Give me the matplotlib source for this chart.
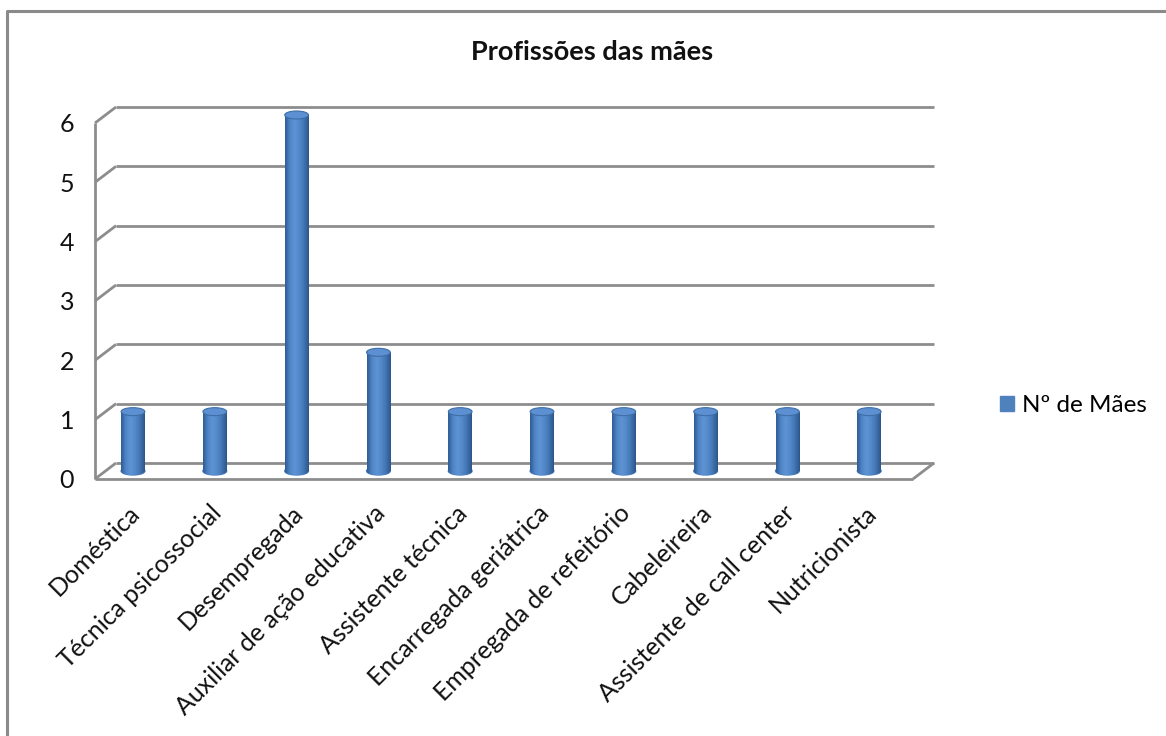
#!/usr/bin/env python3
"""Profissões das mães - 3D-style cylinder bar chart, redrawn in matplotlib."""

import numpy as np
import matplotlib
matplotlib.use("Agg")
import matplotlib.pyplot as plt
from matplotlib.colors import LinearSegmentedColormap
from matplotlib.lines import Line2D
from matplotlib.patches import Ellipse, Patch

plt.rcParams["font.family"] = ["Lato", "DejaVu Sans"]

# data
profissoes = [
    "Doméstica",
    "Técnica psicossocial",
    "Desempregada",
    "Auxiliar de ação educativa",
    "Assistente técnica",
    "Encarregada geriátrica",
    "Empregada de refeitório",
    "Cabeleireira",
    "Assistente de call center",
    "Nutricionista",
]
n_maes = [1, 1, 6, 2, 1, 1, 1, 1, 1, 1]
y_ticks = [0, 1, 2, 3, 4, 5, 6]
serie = "Nº de Mães"
titulo = "Profissões das mães"

W, H = 1166, 736
GRID = "#8d8d8d"
BLUE = "#4f81bd"
TXT = "#111111"

# fake depth of the 3D box, in data units
DX = 0.257
DY = 0.27
BAR_W = 0.29
CAP_H = 0.135

fig = plt.figure(figsize=(W / 100, H / 100), dpi=100)
# front face of the plot box (pixels: x 95..913, y 479 (0) .. 123 (6))
ax = fig.add_axes([95 / W, (H - 479) / H, (913 - 95) / W, 356 / H])
x0, x1 = -0.336, len(profissoes) - 0.336
for s in ax.spines.values():
    s.set_visible(False)

# walls: front left axis, side diagonals, back gridlines, floor
lkw = dict(color=GRID, lw=2.0, clip_on=False, solid_capstyle="butt", zorder=1)
ax.plot([x0, x0], [0, y_ticks[-1]], **lkw)
for v in y_ticks:
    ax.plot([x0, x0 + DX], [v, v + DY], **lkw)
    ax.plot([x0 + DX, x1 + DX], [v + DY, v + DY], **lkw)
ax.plot([x0, x1], [0, 0], **lkw)
ax.plot([x1, x1 + DX], [0, DY], **lkw)

# cylinders
cmap = LinearSegmentedColormap.from_list(
    "cyl", ["#2f5d95", "#4f84c6", "#5e93d4", "#5389c9", "#4174b2", "#2d5688"])
grad = np.linspace(0, 1, 64).reshape(1, -1)
xs = np.arange(len(profissoes)) + DX / 2
bars = ax.bar(xs, n_maes, width=BAR_W, bottom=DY / 2, color=BLUE,
              label=serie, zorder=3, clip_on=False)
for bar, v in zip(bars, n_maes):
    cx = bar.get_x() + bar.get_width() / 2
    left, right = bar.get_x(), bar.get_x() + bar.get_width()
    bottom, top = bar.get_y(), bar.get_y() + bar.get_height()
    base = Ellipse((cx, bottom), BAR_W, CAP_H, color=BLUE, zorder=3, clip_on=False)
    ax.add_patch(base)
    for clip in (bar, base):
        im = ax.imshow(grad, cmap=cmap, aspect="auto", zorder=4,
                       extent=(left, right, bottom - CAP_H, top),
                       interpolation="bilinear")
        im.set_clip_path(clip)
    ax.add_patch(Ellipse((cx, top), BAR_W, CAP_H, facecolor="#5d90d2",
                         edgecolor="#3f6ea6", lw=0.8, zorder=5, clip_on=False))

ax.set_xlim(x0, x1)
ax.set_ylim(0, 6)

# y labels
ax.set_yticks(y_ticks)
ax.set_yticklabels([str(v) for v in y_ticks], fontsize=18)
ax.tick_params(axis="y", length=0, pad=15, colors=TXT)
ax.set_xticks([])

# category labels, rotated 45 degrees
for i, lab in enumerate(profissoes):
    ax.annotate(lab, xy=(i, 0), xytext=(4, -16), textcoords="offset points",
                rotation=45, ha="right", va="top", rotation_mode="anchor",
                fontsize=18, color=TXT)

fig.text(592 / W, 1 - 52 / H, titulo, ha="center", va="center",
         fontsize=19.5, fontweight="bold", color=TXT)

ax.legend(handles=[Patch(color=BLUE, label=serie)], loc="center left",
          bbox_to_anchor=(1000 / W, 1 - 406 / H), bbox_transform=fig.transFigure,
          frameon=False, fontsize=17.5, handlelength=0.58, handleheight=0.58,
          handletextpad=0.32, borderpad=0, borderaxespad=0)

# chart area border (only top and left edges fall inside the picture)
fig.add_artist(Line2D([7 / W, 7 / W, 1.0], [0.0, 1 - 11 / H, 1 - 11 / H],
                      transform=fig.transFigure, color="#8a8a8a", lw=2.2))

fig.savefig("out.png", dpi=100)
